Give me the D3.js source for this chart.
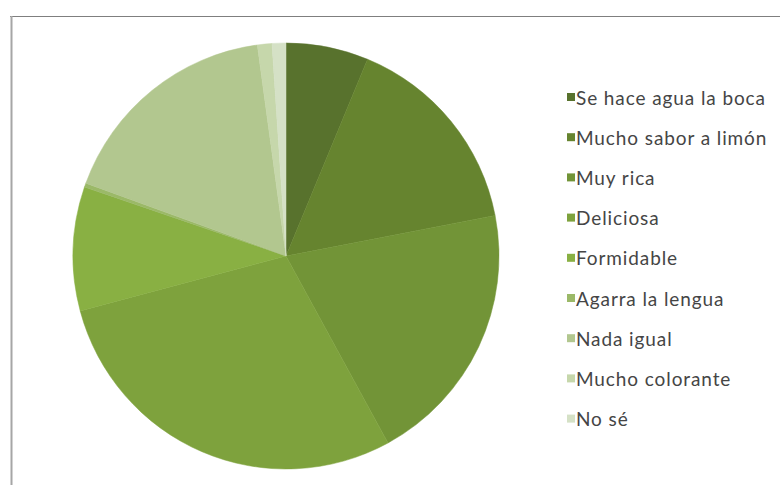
<!DOCTYPE html>
<html>
<head>
<meta charset="utf-8">
<script src="https://cdn.jsdelivr.net/npm/d3@7"></script>
<style>
  html, body { margin: 0; padding: 0; background: #fff; }
  svg { display: block; }
</style>
</head>
<body>
<svg id="chart" width="780" height="485"></svg>
<script>
// Survey answers, in drawing order (clockwise from 12 o'clock)
const categories = [
  "Se hace agua la boca",
  "Mucho sabor a limón",
  "Muy rica",
  "Deliciosa",
  "Formidable",
  "Agarra la lengua",
  "Nada igual",
  "Mucho colorante",
  "No sé"
];
// Share of answers (%)
const values = [6.25, 15.7, 20.1, 28.8, 9.4, 0.3, 17.3, 1.1, 1.05];
// Olive green ramp, dark to light
const colors = [
  "#58722d", "#66842f", "#729437", "#7ea23d", "#89b043",
  "#9bb968", "#b2c78f", "#c6d7ab", "#d5e1c6"
];

const svg = d3.select("#chart");

// chart frame
svg.append("line")
  .attr("x1", 10).attr("x2", 780).attr("y1", 16.5).attr("y2", 16.5)
  .attr("stroke", "#7f7f7f").attr("stroke-width", 1.2);
svg.append("line")
  .attr("x1", 11.5).attr("x2", 11.5).attr("y1", 16).attr("y2", 485)
  .attr("stroke", "#a6a6a6").attr("stroke-width", 2);

// pie
const cx = 286, cy = 256, radius = 213;
const pie = d3.pie().sort(null).value(d => d.value);
const arc = d3.arc().innerRadius(0).outerRadius(radius);
const data = categories.map((c, i) => ({ name: c, value: values[i], color: colors[i] }));

const g = svg.append("g").attr("transform", `translate(${cx},${cy})`);
g.selectAll("path")
  .data(pie(data))
  .join("path")
  .attr("d", arc)
  .attr("fill", d => d.data.color)
  .attr("stroke", d => d.data.color)
  .attr("stroke-width", 0.5);

// legend
const legendX = 567, legendY = 97, rowH = 40.2;
const legend = svg.append("g");
const rows = legend.selectAll("g")
  .data(data)
  .join("g")
  .attr("transform", (d, i) => `translate(${legendX},${legendY + i * rowH})`);
rows.append("rect")
  .attr("x", 0).attr("y", -4).attr("width", 8).attr("height", 8)
  .attr("fill", d => d.color);
rows.append("text")
  .attr("x", 9).attr("y", 0)
  .attr("dominant-baseline", "central")
  .attr("font-family", "Lato, 'Open Sans', sans-serif")
  .attr("font-size", 19)
  .attr("letter-spacing", 0.9)
  .attr("fill", "#454545")
  .text(d => d.name);
</script>
</body>
</html>
